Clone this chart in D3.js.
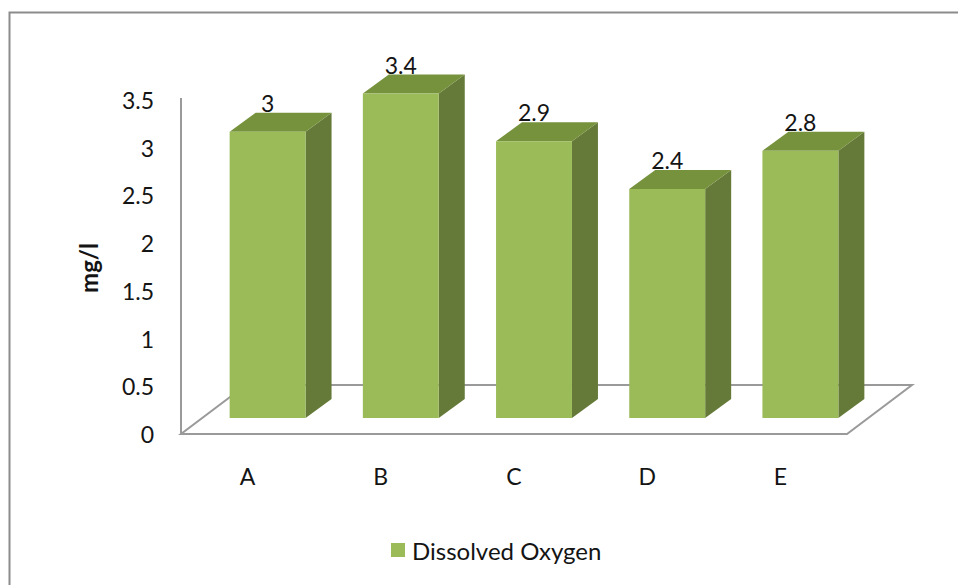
<!DOCTYPE html>
<html>
<head>
<meta charset="utf-8">
<script src="https://cdn.jsdelivr.net/npm/d3@7"></script>
<style>
  html, body { margin: 0; padding: 0; background: #fff; }
  svg { display: block; }
  text { font-family: Lato, "Open Sans", sans-serif; fill: #141414; }
</style>
</head>
<body>
<svg id="chart" width="958" height="585"></svg>
<script>
// ---- data ----
const categories = ["A", "B", "C", "D", "E"];
const values = [3, 3.4, 2.9, 2.4, 2.8];
const tickValues = [0, 0.5, 1, 1.5, 2, 2.5, 3, 3.5];
const seriesName = "Dissolved Oxygen";
const yTitle = "mg/l";

// ---- layout ----
const svg = d3.select("#chart");
const frontLeft = 181, frontRight = 847;
const floorDepth = { dx: 65, dy: -49 };      // floor depth vector
const barOffset = { dx: 20, dy: -16 };       // bars' front plane offset from front edge
const barDepth = { dx: 26, dy: -19 };        // depth of each bar

const colors = { front: "#9bbb59", side: "#657a39", top: "#76923c", grid: "#9a9a9a" };

const x = d3.scaleBand().domain(categories).range([frontLeft, frontRight]).padding(0);
const y = d3.scaleLinear().domain([0, 3.5]).range([434, 100]);

// outer frame
svg.append("rect")
  .attr("x", 9.5).attr("y", 12.5).attr("width", 1000).attr("height", 1000)
  .attr("fill", "none").attr("stroke", "#8c8c8c").attr("stroke-width", 2);

// floor
const fy = y(0);
const floorPts = [
  [frontLeft, fy], [frontRight, fy],
  [frontRight + floorDepth.dx, fy + floorDepth.dy],
  [frontLeft + floorDepth.dx, fy + floorDepth.dy]
];
svg.append("polygon")
  .attr("points", floorPts.map(p => p.join(",")).join(" "))
  .attr("fill", "none").attr("stroke", colors.grid).attr("stroke-width", 2);

// vertical axis line
svg.append("line")
  .attr("x1", frontLeft).attr("x2", frontLeft)
  .attr("y1", y(3.5) - 2).attr("y2", y(0))
  .attr("stroke", colors.grid).attr("stroke-width", 2);

// tick labels
svg.append("g").selectAll("text").data(tickValues).join("text")
  .attr("x", 154).attr("y", d => y(d))
  .attr("text-anchor", "end").attr("dominant-baseline", "central")
  .attr("font-size", 23)
  .text(d => d3.format("")(d));

// y title
svg.append("text")
  .attr("transform", "translate(88,268) rotate(-90)")
  .attr("text-anchor", "middle").attr("dominant-baseline", "central")
  .attr("font-size", 24).attr("font-weight", "bold")
  .text(yTitle);

// bars
const bw = x.bandwidth() * 0.57;
const bars = svg.append("g").selectAll("g").data(categories.map((c, i) => ({ c, v: values[i] }))).join("g");

bars.each(function(d) {
  const g = d3.select(this);
  const cx = x(d.c) + x.bandwidth() / 2 + barOffset.dx;
  const x0 = cx - bw / 2, x1 = cx + bw / 2;
  const yb = y(0) + barOffset.dy, yt = y(d.v) + barOffset.dy;
  const ddx = barDepth.dx, ddy = barDepth.dy;
  // side face
  g.append("polygon")
    .attr("points", [[x1, yt], [x1 + ddx, yt + ddy], [x1 + ddx, yb + ddy], [x1, yb]].map(p => p.join(",")).join(" "))
    .attr("fill", colors.side);
  // top face
  g.append("polygon")
    .attr("points", [[x0, yt], [x0 + ddx, yt + ddy], [x1 + ddx, yt + ddy], [x1, yt]].map(p => p.join(",")).join(" "))
    .attr("fill", colors.top);
  // front face
  g.append("rect")
    .attr("x", x0).attr("y", yt).attr("width", bw).attr("height", yb - yt)
    .attr("fill", colors.front);
  // value label
  g.append("text")
    .attr("x", cx).attr("y", yt + ddy - 1)
    .attr("text-anchor", "middle")
    .attr("font-size", 23)
    .text(d.v);
});

// category labels
svg.append("g").selectAll("text").data(categories).join("text")
  .attr("x", d => x(d) + x.bandwidth() / 2)
  .attr("y", 476)
  .attr("text-anchor", "middle").attr("dominant-baseline", "central")
  .attr("font-size", 23)
  .text(d => d);

// legend
const lg = svg.append("g").attr("transform", "translate(391,543)");
lg.append("rect").attr("width", 14).attr("height", 14).attr("fill", colors.front);
lg.append("text").attr("x", 21).attr("y", 7.5)
  .attr("dominant-baseline", "central").attr("font-size", 24)
  .text(seriesName);
</script>
</body>
</html>
